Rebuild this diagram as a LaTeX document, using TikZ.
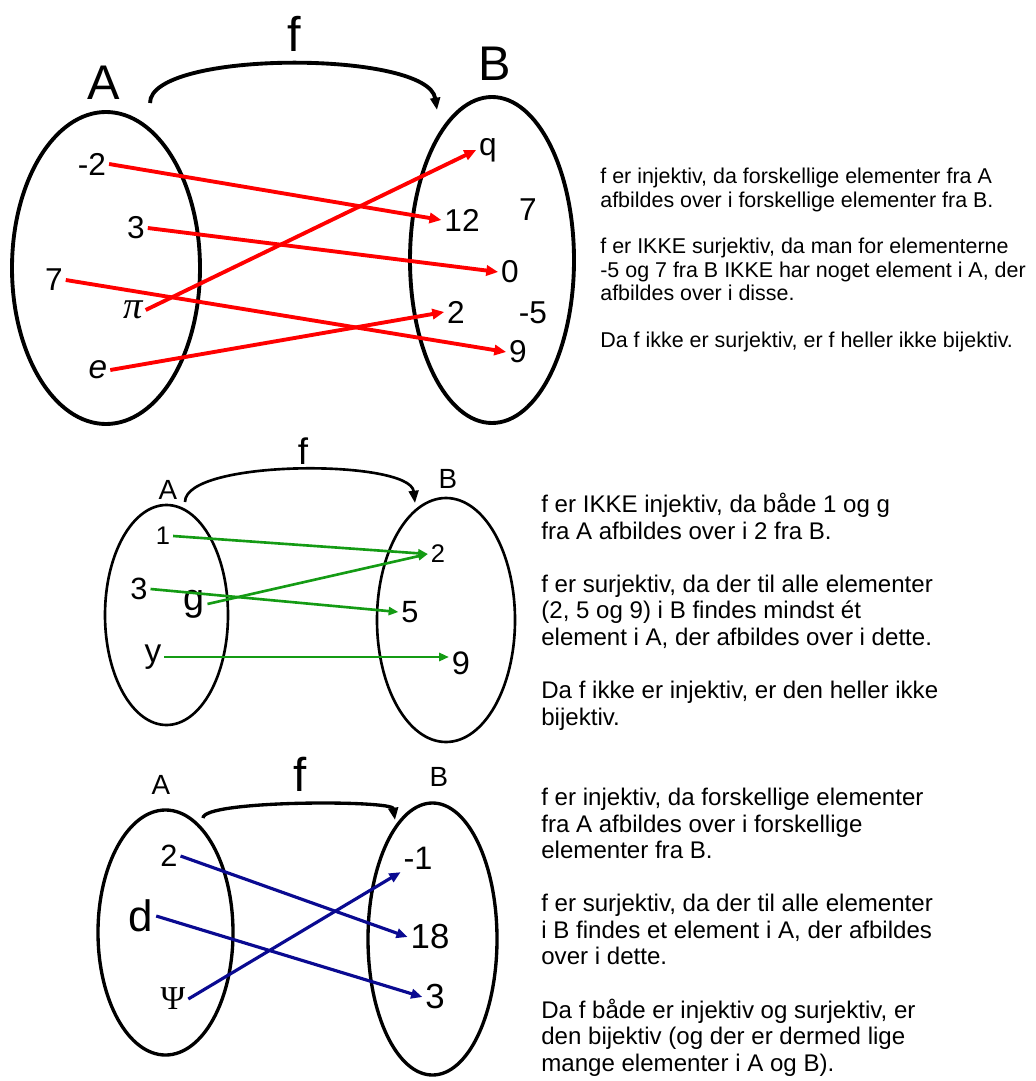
\documentclass[tikz,border=0pt]{standalone}
\usepackage{fontspec}
\setmainfont{Liberation Sans}
\newfontfamily\greekserif{Liberation Serif}
\usetikzlibrary{arrows.meta}
\colorlet{mapred}{red}
\definecolor{mapgreen}{RGB}{20,155,20}
\definecolor{mapblue}{RGB}{10,10,145}
\newcommand{\setsz}[1]{\fontsize{#1}{#1}\selectfont}

\begin{document}
\begin{tikzpicture}[x=0.02cm, y=-0.02cm,
  elem/.style={inner sep=1.5pt},
  setname/.style={inner sep=0pt},
  setring/.style={line width=#1},
  fcurve/.style={line width=#1, -{Triangle[length=7pt, width=5.5pt]}},
  mapone/.style={mapred, line width=2.2pt, -{Triangle[length=6.8pt, width=5.8pt]}},
  maptwo/.style={mapgreen, line width=1.5pt, -{Triangle[length=5.6pt, width=4.6pt]}},
  mapthree/.style={mapblue, line width=1.8pt, -{Triangle[length=6.4pt, width=5.4pt]}},
  remark/.style={anchor=north west, inner sep=0pt, align=left}]

  \useasboundingbox (0,0) rectangle (1035,1081);

  % --- first mapping: injektiv, ikke surjektiv ------------------------------
  \draw[setring=2.2pt] (106,268) ellipse [x radius=94, y radius=156];
  \draw[setring=2.2pt] (492,260) ellipse [x radius=82, y radius=163];
  \node[setname, font=\setsz{27.7}] (A1) at (104,83) {A};
  \node[setname, font=\setsz{27.7}] (B1) at (495,64) {B};
  \node[setname, font=\setsz{27.7}] (f1) at (294,34) {f};
  \coordinate (f1s) at (150,103);
  \coordinate (f1e) at (437,110);
  \draw[fcurve=2.2pt] (f1s) .. controls (150,50) and (428,50) .. (f1e);

  \node[elem, font=\setsz{18}] (a1-m2) at (92,164) {-2};
  \node[elem, font=\setsz{18}] (a1-3) at (136,228) {3};
  \node[elem, font=\setsz{18}] (a1-7) at (54,280) {7};
  \node[elem, font=\greekserif\itshape\setsz{22}] (a1-pi) at (133,310) {π};
  \node[elem, font=\setsz{19}] (a1-e) at (98,370) {\textit{e}};

  \node[elem, font=\setsz{18}] (b1-q) at (488,150) {q};
  \node[elem, font=\setsz{18}] (b1-12) at (462,220) {12};
  \node[elem, font=\setsz{18}] (b1-7) at (528,210) {7};
  \node[elem, font=\setsz{18}] (b1-0) at (510,272) {0};
  \node[elem, font=\setsz{18}] (b1-2) at (456,312) {2};
  \node[elem, font=\setsz{18}] (b1-m5) at (533,313) {-5};
  \node[elem, font=\setsz{18}] (b1-9) at (518,352) {9};

  \draw[mapone] (a1-m2.east) -- (b1-12.west);
  \draw[mapone] (a1-3.east) -- (b1-0.west);
  \draw[mapone] (a1-7.east) -- (b1-9.west);
  \draw[mapone] (a1-pi.east) -- (b1-q.west);
  \draw[mapone] (a1-e.east) -- (b1-2.west);

  \node[remark, font=\fontsize{12.2}{13.3}\selectfont] (txt1) at (600,168) {%
    f er injektiv, da forskellige elementer fra A\\
    afbildes over i forskellige elementer fra B.\\[13.3pt]
    f er IKKE surjektiv, da man for elementerne\\
    -5 og 7 fra B IKKE har noget element i A, der\\
    afbildes over i disse.\\[13.3pt]
    Da f ikke er surjektiv, er f heller ikke bijektiv.};

  % --- second mapping: surjektiv, ikke injektiv -----------------------------
  \draw[setring=1.5pt] (166.5,615) ellipse [x radius=61.5, y radius=110];
  \draw[setring=1.5pt] (446,620) ellipse [x radius=69, y radius=122];
  \node[setname, font=\setsz{15.8}] (A2) at (168,490) {A};
  \node[setname, font=\setsz{15.8}] (B2) at (448,479) {B};
  \node[setname, font=\setsz{21}] (f2) at (303,451) {f};
  \coordinate (f2s) at (185,502);
  \coordinate (f2e) at (415,503);
  \draw[fcurve=1.5pt] (f2s) .. controls (185,459) and (410,459) .. (f2e);

  \node[elem, font=\setsz{14.5}] (a2-1) at (163,536) {1};
  \node[elem, font=\setsz{17.5}] (a2-3) at (139,589) {3};
  \node[elem, font=\setsz{21.5}] (a2-g) at (194,604) {g};
  \node[elem, font=\setsz{19}] (a2-y) at (153,657) {y};

  \node[elem, font=\setsz{14.5}] (b2-2) at (438,554) {2};
  \node[elem, font=\setsz{17.5}] (b2-5) at (410,612) {5};
  \node[elem, font=\setsz{18.5}] (b2-9) at (461,663) {9};

  \draw[maptwo] (a2-1.east) -- (b2-2.west);
  \draw[maptwo] (a2-3.east) -- (b2-5.west);
  \draw[maptwo] (a2-g.east) -- (b2-2.west);
  \draw[maptwo] (a2-y.east) -- (a2-y.east -| b2-9.west);

  \node[remark, font=\fontsize{13.7}{15.1}\selectfont] (txt2) at (541,493) {%
    f er IKKE injektiv, da både 1 og g\\
    fra A afbildes over i 2 fra B.\\[15.1pt]
    f er surjektiv, da der til alle elementer\\
    (2, 5 og 9) i B findes mindst ét\\
    element i A, der afbildes over i dette.\\[15.1pt]
    Da f ikke er injektiv, er den heller ikke\\
    bijektiv.};

  % --- third mapping: bijektiv ---------------------------------------------
  \draw[setring=1.9pt] (165.5,932.5) ellipse [x radius=67.5, y radius=122.5];
  \draw[setring=1.9pt] (432.5,939) ellipse [x radius=64.5, y radius=136];
  \node[setname, font=\setsz{15.8}] (A3) at (161,785) {A};
  \node[setname, font=\setsz{15.8}] (B3) at (439,777) {B};
  \node[setname, font=\setsz{27}] (f3) at (300,774) {f};
  \coordinate (f3s) at (203,818);
  \coordinate (f3e) at (395,820);
  \draw[fcurve=1.9pt] (f3s) .. controls (203,800) and (392,800) .. (f3e);

  \node[elem, font=\setsz{17.5}] (a3-2) at (169,856) {2};
  \node[elem, font=\setsz{25}] (a3-d) at (141,916) {d};
  \node[elem, font=\greekserif\setsz{19}] (a3-psi) at (173,999) {Ψ};

  \node[elem, font=\setsz{18.5}] (b3-m1) at (418,858) {-1};
  \node[elem, font=\setsz{19.8}] (b3-18) at (430,937) {18};
  \node[elem, font=\setsz{19.8}] (b3-3) at (435,997) {3};

  \draw[mapthree] (a3-2.east) -- (b3-18.west);
  \draw[mapthree] (a3-d.east) -- (b3-3.west);
  \draw[mapthree] (a3-psi.east) -- (b3-m1.south west);

  \node[remark, font=\fontsize{13.7}{15.1}\selectfont] (txt3) at (541,788) {%
    f er injektiv, da forskellige elementer\\
    fra A afbildes over i forskellige\\
    elementer fra B.\\[15.1pt]
    f er surjektiv, da der til alle elementer\\
    i B findes et element i A, der afbildes\\
    over i dette.\\[15.1pt]
    Da f både er injektiv og surjektiv, er\\
    den bijektiv (og der er dermed lige\\
    mange elementer i A og B).};

\end{tikzpicture}
\end{document}
